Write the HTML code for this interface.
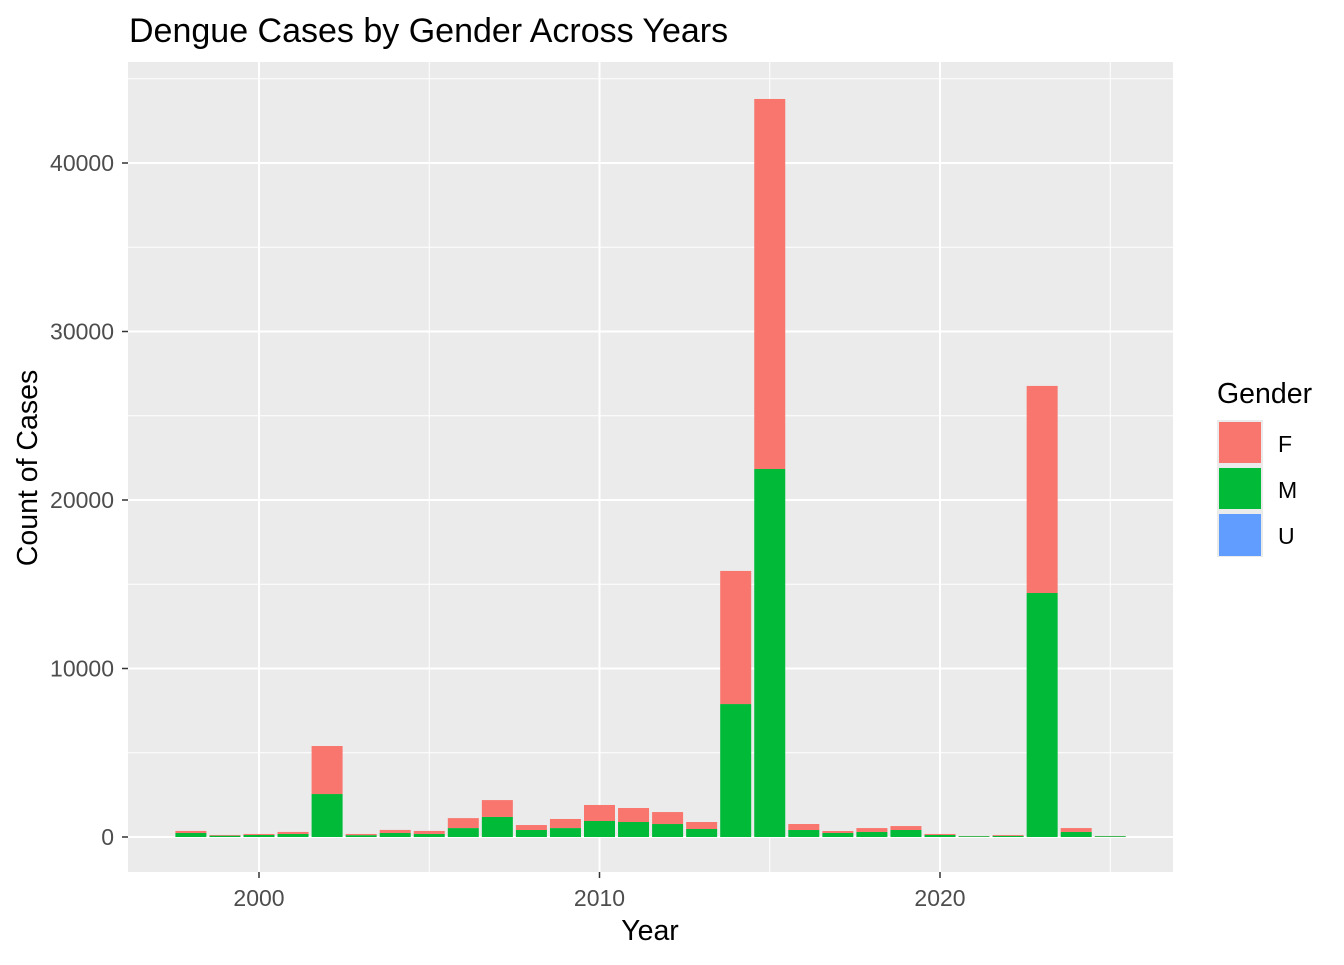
<!DOCTYPE html>
<html><head><meta charset="utf-8"><style>
body{margin:0;background:#fff;font-family:"Liberation Sans",Arial,sans-serif;}
svg text{font-family:"Liberation Sans",Arial,sans-serif;}
</style></head><body>
<svg id="chart" width="1344" height="960" xmlns="http://www.w3.org/2000/svg">
<rect width="1344" height="960" fill="#fff"/>
<text x="129" y="42" font-size="34" fill="#000">Dengue Cases by Gender Across Years</text>
<rect x="128" y="62" width="1045" height="810" fill="#ebebeb"/>
<g id="grid"></g>
<g id="bars"></g>
<g id="axes"></g>
<text x="650" y="940" font-size="28.5" text-anchor="middle">Year</text>
<text transform="translate(37,468) rotate(-90)" font-size="28.5" text-anchor="middle">Count of Cases</text>
<g>
<text x="1217" y="403" font-size="28.5">Gender</text>
<rect x="1217" y="420" width="46" height="137" fill="#ebebeb"/>
<rect x="1219" y="422" width="42" height="41" fill="#F8766D"/>
<rect x="1219" y="468" width="42" height="41" fill="#00BA38"/>
<rect x="1219" y="514" width="42" height="42" fill="#619CFF"/>
<text x="1278" y="452" font-size="23">F</text>
<text x="1278" y="498" font-size="23">M</text>
<text x="1278" y="544" font-size="23">U</text>
</g>
</svg>
<script>
const years=[1998,1999,2000,2001,2002,2003,2004,2005,2006,2007,2008,2009,2010,2011,2012,2013,2014,2015,2016,2017,2018,2019,2020,2021,2022,2023,2024,2025];
const maleCases=[240,80,120,180,2550,110,240,180,530,1190,415,530,950,890,770,475,7890,21840,415,240,300,415,120,50,70,14480,300,50];
const femaleCases=[120,40,60,120,2850,70,180,180,590,1000,295,540,950,830,710,415,7900,21960,355,116,230,235,60,10,50,12290,230,10];
const unknownCases=[0,0,0,0,0,0,0,0,0,0,0,0,0,0,0,0,0,0,0,0,0,0,0,0,0,0,0,0];
const yTicks=[0,10000,20000,30000,40000];
const xTicks=[2000,2010,2020];
const NS="http://www.w3.org/2000/svg";
const x=v=>259+(v-2000)*34.05;
const y=v=>837-v*168.5/10000;
const bw=31;
function mk(tag,attrs,parent){const e=document.createElementNS(NS,tag);for(const k in attrs)e.setAttribute(k,attrs[k]);parent.appendChild(e);return e;}
const grid=document.getElementById('grid'),bars=document.getElementById('bars'),axes=document.getElementById('axes');
[5000,15000,25000,35000,45000].forEach(v=>{const l=mk('line',{x1:128,x2:1173,y1:y(v),y2:y(v),stroke:'#fff','stroke-width':1},grid);

});
[2005,2015,2025].forEach(v=>{const l=mk('line',{x1:x(v),x2:x(v),y1:62,y2:872,stroke:'#fff','stroke-width':1},grid);

});
yTicks.forEach(v=>{const l=mk('line',{x1:128,x2:1173,y1:y(v),y2:y(v),stroke:'#fff','stroke-width':2},grid);


const t=mk('text',{x:114,y:y(v)+8,'text-anchor':'end','font-size':23,fill:'#4d4d4d'},axes);t.textContent=v;


const tk=mk('line',{x1:122,x2:128,y1:y(v),y2:y(v),stroke:'#333','stroke-width':1.5},axes);

});
xTicks.forEach(v=>{const l=mk('line',{x1:x(v),x2:x(v),y1:62,y2:872,stroke:'#fff','stroke-width':2},grid);


const t=mk('text',{x:x(v),y:906,'text-anchor':'middle','font-size':23,fill:'#4d4d4d'},axes);t.textContent=v;


const tk=mk('line',{x1:x(v),x2:x(v),y1:872,y2:878,stroke:'#333','stroke-width':1.5},axes);

});
years.forEach((yr,i)=>{
  const m=maleCases[i],f=femaleCases[i],u=unknownCases[i];
  const ub=mk('rect',{x:x(yr)-bw/2,y:y(u),width:bw,height:y(0)-y(u),fill:'#619CFF'},bars);
  
  
  const mb=mk('rect',{x:x(yr)-bw/2,y:y(u+m),width:bw,height:y(u)-y(u+m),fill:'#00BA38'},bars);
  
  
  const fb=mk('rect',{x:x(yr)-bw/2,y:y(u+m+f),width:bw,height:y(u+m)-y(u+m+f),fill:'#F8766D'},bars);
  
  
});
</script>
</body></html>
